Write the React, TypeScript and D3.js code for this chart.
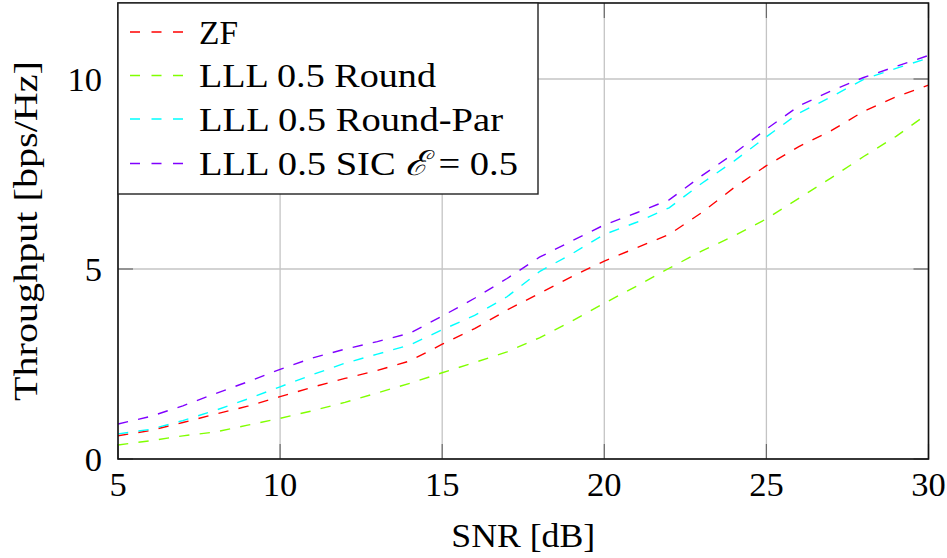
import React from "react";
import * as d3 from "d3";

const snr = [5, 6, 7, 8, 9, 10, 11, 12, 13, 14, 15, 16, 17, 18, 19, 20, 21, 22, 23, 24, 25, 26, 27, 28, 29, 30];

const zf = [0.61, 0.75, 0.96, 1.18, 1.39, 1.64, 1.89, 2.12, 2.33, 2.58, 3.02, 3.43, 3.92, 4.36, 4.8, 5.21, 5.56, 5.91, 6.48, 7.14, 7.72, 8.22, 8.64, 9.15, 9.53, 9.84];
const lllRound = [0.37, 0.48, 0.61, 0.71, 0.89, 1.07, 1.27, 1.49, 1.74, 1.99, 2.27, 2.54, 2.82, 3.19, 3.63, 4.1, 4.55, 5.02, 5.47, 5.87, 6.32, 6.86, 7.4, 7.96, 8.49, 9.1];
const lllRoundPar = [0.66, 0.78, 1.01, 1.28, 1.58, 1.9, 2.22, 2.52, 2.76, 3.0, 3.4, 3.78, 4.27, 4.93, 5.4, 5.91, 6.23, 6.61, 7.25, 7.84, 8.48, 9.1, 9.53, 9.99, 10.28, 10.55];
const lllSic = [0.92, 1.12, 1.4, 1.72, 2.03, 2.36, 2.66, 2.89, 3.09, 3.31, 3.76, 4.23, 4.75, 5.31, 5.74, 6.16, 6.48, 6.82, 7.45, 8.04, 8.68, 9.29, 9.69, 10.04, 10.33, 10.62];

const seriesNames = ["ZF", "LLL 0.5 Round", "LLL 0.5 Round-Par", "LLL 0.5 SIC"];
const seriesValues = [zf, lllRound, lllRoundPar, lllSic];
const seriesColors = ["#ff0000", "#80ff00", "#00ffff", "#8000ff"];

const xTicks = [5, 10, 15, 20, 25, 30];
const yTicks = [0, 5, 10];

const W = 947;
const H = 558;
const FONT = "Liberation Serif, DejaVu Serif, serif";

export default function App() {
  const left = 118, right = 928.5, top = 3, bottom = 459;
  const x = d3.scaleLinear().domain([5, 30]).range([left, right]);
  const y = d3.scaleLinear().domain([0, 12]).range([bottom, top]);
  const line = d3
    .line<number>()
    .x((_, i) => x(snr[i]))
    .y((v) => y(v));

  const tickLen = 15;
  const legendX = left, legendY = top, legendW = 420, legendH = 191;
  const rowBase = [43.5, 87, 130.5, 175];
  const textWidths = [39, 237, 304, 319];
  const txt = { fontFamily: FONT, fill: "#000" } as React.CSSProperties;

  return (
    <svg
      width={W}
      height={H}
      style={{ position: "absolute", left: 0, top: 0, background: "#fff", fontFamily: FONT }}
    >
      <defs>
        <clipPath id="plotclip">
          <rect x={left} y={top} width={right - left} height={bottom - top} />
        </clipPath>
      </defs>
      <g stroke="#c4c4c4" strokeWidth={1.3}>
        {xTicks.map((t) => (
          <line key={"gx" + t} x1={x(t)} x2={x(t)} y1={top} y2={bottom} />
        ))}
        {yTicks.map((t) => (
          <line key={"gy" + t} x1={left} x2={right} y1={y(t)} y2={y(t)} />
        ))}
      </g>
      <g stroke="#6a6a6a" strokeWidth={1.2}>
        {xTicks.map((t) => (
          <g key={"tx" + t}>
            <line x1={x(t)} x2={x(t)} y1={bottom} y2={bottom - tickLen} />
            <line x1={x(t)} x2={x(t)} y1={top} y2={top + tickLen} />
          </g>
        ))}
        {yTicks.map((t) => (
          <g key={"ty" + t}>
            <line x1={left} x2={left + tickLen} y1={y(t)} y2={y(t)} />
            <line x1={right} x2={right - tickLen} y1={y(t)} y2={y(t)} />
          </g>
        ))}
      </g>
      <g clipPath="url(#plotclip)" fill="none" strokeWidth={1.4} strokeDasharray="10.3,10.3">
        {seriesValues.map((vals, i) => (
          <path key={"s" + i} d={line(vals) || ""} stroke={seriesColors[i]} />
        ))}
      </g>
      <rect x={left} y={top} width={right - left} height={bottom - top} fill="none" stroke="#111" strokeWidth={1.6} />
      <g fontSize={34.5}>
        {xTicks.map((t) => (
          <text key={"lx" + t} x={x(t)} y={495.5} textAnchor="middle" style={txt}>
            {t}
          </text>
        ))}
        {yTicks.map((t) => (
          <text key={"ly" + t} x={102} y={y(t) + 11.5} textAnchor="end" style={txt}>
            {t}
          </text>
        ))}
      </g>
      <text
        x={(left + right) / 2}
        y={547}
        textAnchor="middle"
        fontSize={34.5}
        textLength={144}
        lengthAdjust="spacingAndGlyphs"
        style={txt}
      >
        SNR [dB]
      </text>
      <text
        transform={`translate(37,${(top + bottom) / 2}) rotate(-90)`}
        textAnchor="middle"
        fontSize={34.5}
        textLength={340}
        lengthAdjust="spacingAndGlyphs"
        style={txt}
      >
        Throughput [bps/Hz]
      </text>
      <g>
        <rect x={legendX} y={legendY} width={legendW} height={legendH} fill="#fff" stroke="#222" strokeWidth={1.4} />
        {seriesNames.map((name, i) => (
          <g key={"lg" + i}>
            <line
              x1={130}
              x2={183}
              y1={rowBase[i] - 11.5}
              y2={rowBase[i] - 11.5}
              stroke={seriesColors[i]}
              strokeWidth={1.4}
              strokeDasharray="10,11.5"
            />
            <text
              x={199}
              y={rowBase[i]}
              fontSize={34.5}
              textLength={textWidths[i]}
              lengthAdjust="spacingAndGlyphs"
              style={txt}
            >
              {i === 3 ? (
                <>
                  {name + " "}
                  <tspan fontStyle="italic">ℰ</tspan>
                  {" = 0.5"}
                </>
              ) : (
                name
              )}
            </text>
          </g>
        ))}
      </g>
    </svg>
  );
}
